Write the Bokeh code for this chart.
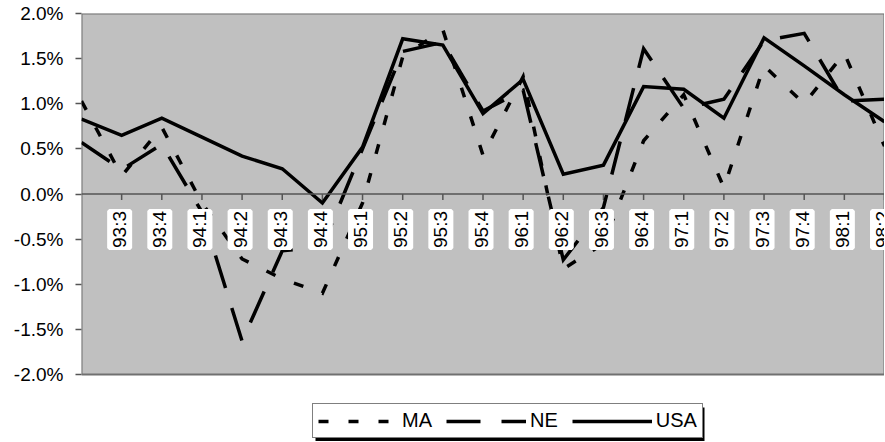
from math import pi

from bokeh.core.properties import value
from bokeh.embed import file_html
from bokeh.models import (ColumnDataSource, FixedTicker, LabelSet, Legend,
                          LegendItem, PrintfTickFormatter, Range1d, Span)
from bokeh.plotting import figure
from bokeh.resources import INLINE

# quarterly growth, percent
quarters = ["93:2", "93:3", "93:4", "94:1", "94:2", "94:3", "94:4",
            "95:1", "95:2", "95:3", "95:4", "96:1", "96:2", "96:3",
            "96:4", "97:1", "97:2", "97:3", "97:4", "98:1", "98:2"]
ma = [1.03, 0.20, 0.74, -0.10, -0.72, -0.94, -1.10, -0.10, 1.52, 1.82, 0.43,
      1.30, -0.83, -0.55, 0.59, 1.10, 0.07, 1.42, 1.00, 1.56, 0.53]
ne = [0.57, 0.27, 0.55, -0.20, -1.63, -0.63, -0.58, 0.50, 1.58, 1.68, 0.92,
      1.15, -0.73, -0.15, 1.61, 0.95, 1.05, 1.70, 1.78, 1.03, 1.05]
usa = [0.83, 0.65, 0.84, 0.63, 0.42, 0.28, -0.10, 0.52, 1.72, 1.65, 0.89,
       1.27, 0.22, 0.32, 1.19, 1.16, 0.84, 1.73, 1.42, 1.10, 0.80]
y_ticks = [-2.0, -1.5, -1.0, -0.5, 0.0, 0.5, 1.0, 1.5, 2.0]

FONT = "Liberation Sans"

# frame geometry in px: plot area 803 x 361, then 67 px of white for the legend
LEFT_PX, TOP_PX = 81, 13
WIDTH_PX, AREA_PX, BELOW_PX = 803, 361, 67
TICK_PX = 6
y_span = y_ticks[-1] - y_ticks[0]
y_lo = y_ticks[0] - y_span * BELOW_PX / AREA_PX

# legend box (px from frame left / frame bottom) and its drop shadow
LEG_X, LEG_Y, LEG_W, LEG_H, SHADOW = 231, 3, 389, 34, 3

x = list(range(len(quarters)))
source = ColumnDataSource(data=dict(x=x, ma=ma, ne=ne, usa=usa))
# first quarter sits on the value axis and has no label
lab_source = ColumnDataSource(data=dict(x=x[1:], y=[0] * (len(x) - 1), q=quarters[1:]))

p = figure(width=LEFT_PX + WIDTH_PX, height=TOP_PX + AREA_PX + BELOW_PX,
           x_range=Range1d(x[0], x[-1]), y_range=Range1d(y_lo, y_ticks[-1]),
           output_backend="svg", toolbar_location=None,
           min_border_left=LEFT_PX, min_border_right=0, min_border_top=TOP_PX,
           min_border_bottom=0)

p.background_fill_color = "white"
p.border_fill_color = "white"
p.outline_line_color = None
p.grid.visible = False
p.xaxis.visible = False

dx = (x[-1] - x[0]) / WIDTH_PX
dy = y_span / AREA_PX

# grey plot area with its frame
p.quad(left=[x[0]], right=[x[-1]], bottom=[y_ticks[0]], top=[y_ticks[-1]],
       fill_color="#c0c0c0", line_color="#707070", line_width=2)

# legend shadow, converted from px to data units
p.quad(left=[x[0] + (LEG_X + SHADOW) * dx], right=[x[0] + (LEG_X + SHADOW + LEG_W) * dx],
       bottom=[y_lo + (LEG_Y - SHADOW) * dy], top=[y_lo + (LEG_Y - SHADOW + LEG_H) * dy],
       fill_color="black", line_color=None)

# category axis crosses at zero, ticks hang down
p.add_layout(Span(location=0, dimension="width", line_color="#555555", line_width=1.5))
p.segment(x0=x[1:], y0=[0] * (len(x) - 1), x1=x[1:], y1=[-TICK_PX * dy] * (len(x) - 1),
          line_color="#555555", line_width=1.5)

p.yaxis.ticker = FixedTicker(ticks=y_ticks)
p.yaxis.formatter = PrintfTickFormatter(format="%.1f%%")
p.yaxis.major_label_text_font = FONT
p.yaxis.major_label_text_font_size = "19px"
p.yaxis.major_label_text_color = "black"
p.yaxis.major_label_standoff = 12
p.yaxis.axis_line_color = None
p.yaxis.major_tick_line_color = "#555555"
p.yaxis.major_tick_line_width = 1.5
p.yaxis.major_tick_in = 0
p.yaxis.major_tick_out = TICK_PX
p.yaxis.minor_tick_line_color = None

r_ma = p.line("x", "ma", source=source, line_color="black", line_width=3.5,
              line_dash="10 20", line_join="miter")
r_ne = p.line("x", "ne", source=source, line_color="black", line_width=3.5,
              line_dash="34 21", line_join="miter")
r_usa = p.line("x", "usa", source=source, line_color="black", line_width=3.5,
               line_join="miter")

labels = LabelSet(x="x", y="y", text="q", source=lab_source, angle=pi / 2,
                  text_align="right", text_baseline="middle",
                  x_offset=-2, y_offset=-17,
                  text_font=value(FONT), text_font_size="19px", text_color="black",
                  background_fill_color="white",
                  border_line_color="white", border_line_width=4)
p.add_layout(labels)

items = [LegendItem(label="MA", renderers=[r_ma]),
         LegendItem(label="NE", renderers=[r_ne]),
         LegendItem(label="USA", renderers=[r_usa])]
legend = Legend(items=items, location=(LEG_X, LEG_Y), orientation="horizontal",
                glyph_width=80, glyph_height=20, label_standoff=4, spacing=14,
                padding=5, margin=0,
                label_text_font=FONT, label_text_font_size="20px",
                label_text_color="black",
                background_fill_color="white", background_fill_alpha=1.0,
                border_line_color="black", border_line_width=1)
p.add_layout(legend)

open("out.html", "w").write(file_html(p, INLINE))
